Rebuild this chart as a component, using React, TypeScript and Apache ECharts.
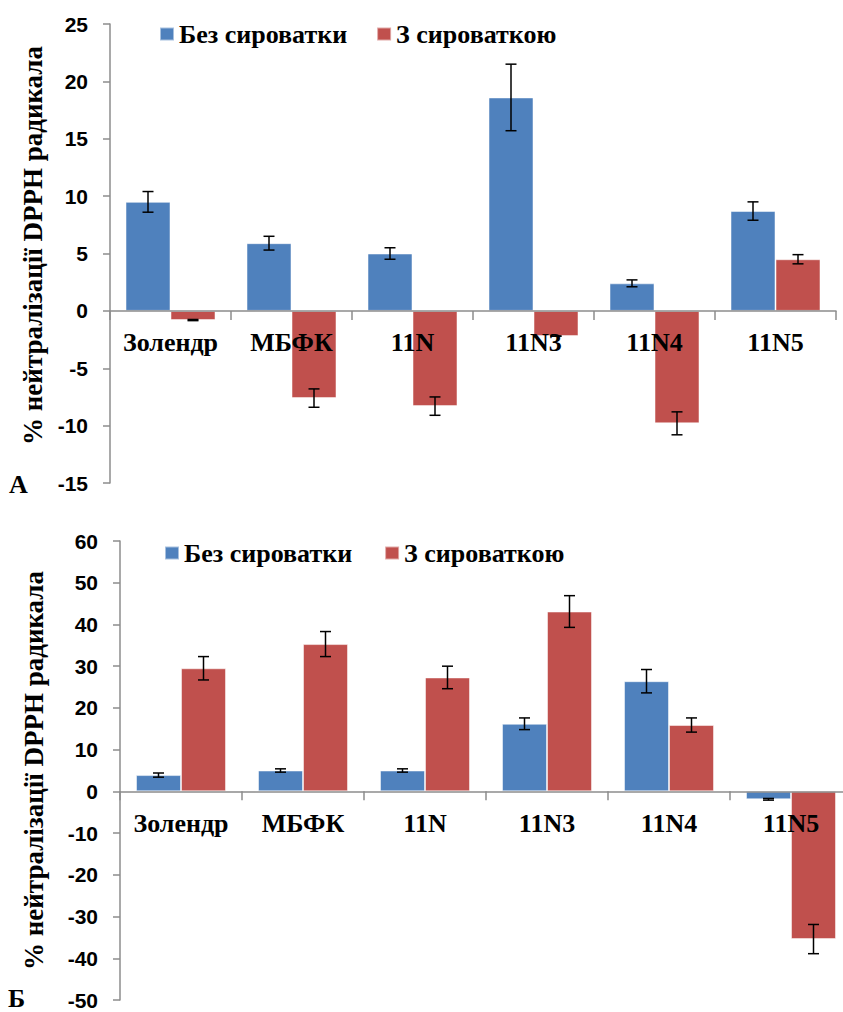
import React, { useEffect, useRef } from "react";
import * as echarts from "echarts";

const categories = ["Золендр", "МБФК", "11N", "11N3", "11N4", "11N5"];
const seriesNames = ["Без сироватки", "З сироваткою"];

// Panel A
const aWithout = [9.5, 5.9, 5.0, 18.6, 2.4, 8.7];
const aWithoutErr = [0.9, 0.6, 0.5, 2.9, 0.3, 0.8];
const aWith = [-0.8, -7.6, -8.3, -2.2, -9.8, 4.5];
const aWithErr = [0.05, 0.8, 0.8, 0, 1.0, 0.4];

// Panel B
const bWithout = [3.9, 5.0, 5.0, 16.2, 26.4, -1.9];
const bWithoutErr = [0.5, 0.4, 0.4, 1.4, 2.8, 0.2];
const bWith = [29.5, 35.3, 27.3, 43.1, 15.9, -35.4];
const bWithErr = [2.8, 3.0, 2.7, 3.8, 1.7, 3.5];

const aTicks = { min: -15, max: 25, interval: 5 };
const bTicks = { min: -50, max: 60, interval: 10 };

const yTitle = "% нейтралізації DPPH радикала";
const panelLabels = ["А", "Б"];

const BLUE = "#4F81BD";
const RED = "#C0504D";
const AXIS = "#8c8c8c";
const SERIF = "Liberation Serif";
const SANS = "Liberation Sans";
const BAR_W = 45;
const GRID_H = 459;

function errSeries(values: number[], errs: number[], idx: number, offset: number) {
  return {
    type: "custom",
    xAxisIndex: idx,
    yAxisIndex: idx,
    silent: true,
    z: 10,
    data: values.map((v, i) => [i, v, errs[i]]),
    renderItem: (params: any, api: any) => {
      const ci = api.value(0);
      const v = api.value(1);
      const e = api.value(2);
      const top = api.coord([ci, v + e]);
      const bot = api.coord([ci, v - e]);
      const x = top[0] + offset;
      const st = { stroke: "#000", lineWidth: 1.5 };
      return {
        type: "group",
        children: [
          { type: "line", shape: { x1: x, y1: top[1], x2: x, y2: bot[1] }, style: st },
          { type: "line", shape: { x1: x - 5.5, y1: top[1], x2: x + 5.5, y2: top[1] }, style: st },
          { type: "line", shape: { x1: x - 5.5, y1: bot[1], x2: x + 5.5, y2: bot[1] }, style: st },
        ],
      };
    },
  };
}

function barSeries(name: string, values: number[], idx: number, color: string) {
  return {
    name,
    type: "bar",
    xAxisIndex: idx,
    yAxisIndex: idx,
    barWidth: BAR_W,
    barGap: "0%",
    data: values,
    itemStyle: { color, borderColor: "rgba(255,255,255,0.5)", borderWidth: 1 },
  };
}

function xAxisFor(idx: number, t: { min: number; max: number }) {
  // place the axis on the zero line of the value axis (labels follow it)
  const zeroOffset = -GRID_H * ((0 - t.min) / (t.max - t.min));
  return {
    type: "category",
    gridIndex: idx,
    data: categories,
    position: "bottom",
    offset: zeroOffset,
    z: 12,
    axisLine: { show: true, onZero: false, lineStyle: { color: AXIS, width: 1.5 } },
    axisTick: { show: true, length: 9, lineStyle: { color: AXIS, width: 1.5 } },
    axisLabel: {
      interval: 0,
      hideOverlap: false,
      margin: 19,
      color: "#000",
      fontFamily: SERIF,
      fontWeight: "bold",
      fontSize: 26,
    },
  };
}

function yAxisFor(
  idx: number,
  t: { min: number; max: number; interval: number },
  gap: number,
  shift: number
) {
  return {
    type: "value",
    gridIndex: idx,
    min: t.min,
    max: t.max,
    interval: t.interval,
    splitLine: { show: false },
    axisLine: { show: true, lineStyle: { color: AXIS, width: 1.5 } },
    axisTick: { show: true, length: 7, lineStyle: { color: AXIS, width: 1.5 } },
    axisLabel: {
      margin: 22,
      color: "#000",
      fontFamily: SANS,
      fontWeight: "bold",
      fontSize: 21,
    },
    name: yTitle,
    nameLocation: "middle",
    nameGap: gap,
    nameTextStyle: {
      color: "#000",
      fontFamily: SERIF,
      fontWeight: "bold",
      fontSize: 27,
      padding: [0, 0, 0, shift],
    },
  };
}

function legendFor(left: number, top: number, gap: number) {
  return {
    left,
    top,
    padding: 0,
    icon: "rect",
    itemWidth: 14,
    itemHeight: 13,
    itemGap: gap,
    selectedMode: false,
    data: seriesNames,
    textStyle: { color: "#000", fontFamily: SERIF, fontWeight: "bold", fontSize: 26 },
  };
}

export default function App() {
  const ref = useRef<HTMLDivElement>(null);
  useEffect(() => {
    if (!ref.current) return;
    const chart = echarts.init(ref.current, undefined, { renderer: "svg" });
    chart.setOption({
      animation: false,
      backgroundColor: "#fff",
      grid: [
        { left: 110, top: 24, width: 726, height: GRID_H, outerBoundsMode: "none", containLabel: false },
        { left: 120, top: 541, width: 732, height: GRID_H, outerBoundsMode: "none", containLabel: false },
      ],
      legend: [legendFor(159, 21, 29), legendFor(164, 540, 32)],
      xAxis: [xAxisFor(0, aTicks), xAxisFor(1, bTicks)],
      yAxis: [yAxisFor(0, aTicks, 63, 16), yAxisFor(1, bTicks, 73, 0)],
      series: [
        barSeries(seriesNames[0], aWithout, 0, BLUE),
        barSeries(seriesNames[1], aWith, 0, RED),
        errSeries(aWithout, aWithoutErr, 0, -BAR_W / 2),
        errSeries(aWith, aWithErr, 0, BAR_W / 2),
        barSeries(seriesNames[0], bWithout, 1, BLUE),
        barSeries(seriesNames[1], bWith, 1, RED),
        errSeries(bWithout, bWithoutErr, 1, -BAR_W / 2),
        errSeries(bWith, bWithErr, 1, BAR_W / 2),
      ],
      graphic: [
        {
          type: "text",
          left: 9,
          top: 471,
          style: { text: panelLabels[0], fill: "#000", fontFamily: SERIF, fontWeight: "bold", fontSize: 26 },
        },
        {
          type: "text",
          left: 8,
          top: 985,
          style: { text: panelLabels[1], fill: "#000", fontFamily: SERIF, fontWeight: "bold", fontSize: 26 },
        },
      ],
    });
    return () => chart.dispose();
  }, []);
  return (
    <div
      style={{
        position: "absolute",
        left: 0,
        top: 0,
        width: 843,
        height: 1012,
        overflow: "hidden",
        background: "#fff",
      }}
    >
      <div ref={ref} style={{ width: 870, height: 1012 }} />
    </div>
  );
}
